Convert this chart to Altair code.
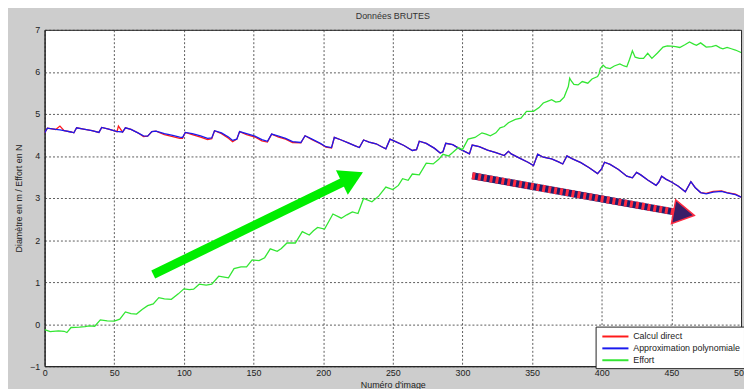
import altair as alt
import pandas as pd

# ---- data ----
blue_x = [0, 2, 8, 11, 14, 19, 21, 23, 28, 34, 39, 41, 46, 52, 53, 56, 58, 62, 67, 71, 74, 77, 80, 86, 92, 97, 99,
          101, 106, 112, 117, 120, 122, 127, 132, 135, 138, 140, 145, 151, 156, 160, 163, 168, 173, 178, 184,
          187, 192, 198, 202, 206, 208, 213, 218, 223, 226, 229, 233, 238, 242, 245, 248, 252, 258, 264, 267,
          269, 274, 280, 284, 286, 288, 293, 299, 305, 307, 312, 318, 324, 330, 333, 335, 341, 347, 351, 354,
          358, 364, 369, 372, 375, 379, 385, 391, 397, 400, 402, 406, 412, 418, 422, 425, 428, 433, 439, 441,
          443, 446, 450, 455, 460, 464, 467, 471, 475, 480, 486, 490, 496, 500]
blue_y = [4.55, 4.66, 4.63, 4.62, 4.60, 4.57, 4.55, 4.67, 4.64, 4.60, 4.56, 4.68, 4.64, 4.58, 4.58, 4.57, 4.67,
          4.63, 4.55, 4.48, 4.47, 4.58, 4.59, 4.53, 4.49, 4.45, 4.44,
          4.56, 4.53, 4.48, 4.42, 4.43, 4.60, 4.55, 4.45, 4.37, 4.40, 4.58, 4.53, 4.47, 4.39, 4.35, 4.52,
          4.47, 4.42, 4.34, 4.32, 4.48, 4.40, 4.30, 4.22, 4.20, 4.44, 4.38, 4.31, 4.24, 4.20, 4.38, 4.33,
          4.29, 4.22, 4.17, 4.40, 4.34, 4.25, 4.13, 4.15, 4.35, 4.30, 4.18, 4.07, 4.10, 4.30, 4.27, 4.15,
          4.05, 4.26, 4.22, 4.14, 4.08, 4.01, 4.11, 4.05, 3.95, 3.85, 3.77, 4.04, 3.97, 3.93, 3.86, 3.81,
          4.00, 3.93, 3.84, 3.72, 3.58, 3.70, 3.85, 3.80, 3.68, 3.52, 3.48, 3.61, 3.55, 3.43, 3.30, 3.38,
          3.52, 3.45, 3.38, 3.28, 3.15, 3.39, 3.25, 3.13, 3.10, 3.14, 3.16, 3.12, 3.08, 3.02]
# deviation of "Calcul direct" from the polynomial approximation at the same image numbers
red_delta = [0, 0, 0, 0.09, 0, 0, 0, 0, 0, 0, 0, 0, 0, 0, 0.13, 0, 0, 0, 0, -0.02, 0, 0, 0, -0.02, -0.03, -0.03, -0.02,
             0, -0.02, -0.03, -0.03, -0.02, 0, -0.02, -0.03, -0.03, 0, 0, -0.02, -0.02, -0.03, -0.02, 0,
             -0.02, -0.02, -0.02, -0.01, 0, -0.01, -0.01, -0.01, -0.01, 0, 0, 0, 0, 0, 0, 0,
             0, 0, 0, 0, 0, 0, 0, 0, 0, 0, 0, 0, 0, 0, 0, 0,
             0, 0, 0, 0, 0, 0, 0, 0, 0, 0, 0, 0, 0, 0, 0, 0,
             0, 0, 0, 0, 0, 0, 0, 0, 0, 0, 0, 0, 0, 0, 0, 0,
             0, 0, 0, 0, 0, 0, 0, 0, 0.01, 0.02, 0.01, 0.01, 0.01, 0]
red_y = [b + d for b, d in zip(blue_y, red_delta)]

green_x = [0, 4, 10, 14, 16, 19, 25, 29, 32, 36, 40, 45, 50, 54, 58, 62, 66, 70, 74, 78, 82, 86, 91, 96, 100,
           104, 107, 111, 116, 120, 125, 129, 132, 136, 141, 145, 149, 154, 158, 162, 167, 170, 174, 180,
           185, 190, 193, 196, 201, 207, 213, 217, 221, 225, 229, 235, 240, 245, 250, 254, 257, 261, 264,
           269, 274, 279, 283, 286, 290, 293, 297, 300, 304, 309, 314, 317, 320, 324, 327, 330, 333, 338,
           342, 346, 351, 355, 358, 361, 364, 367, 370, 373, 375, 376, 377, 378, 380, 383, 386, 390, 393,
           397, 398, 399, 401, 403, 406, 409, 413, 416, 418, 420, 422, 424, 427, 430, 433, 436, 440, 444,
           447, 450, 453, 456, 460, 463, 466, 468, 471, 475, 479, 482, 485, 487, 490, 493, 496, 500]
green_y = [-0.13, -0.18, -0.16, -0.17, -0.20, -0.08, -0.07, -0.06, -0.04, -0.05, 0.10, 0.08, 0.07, 0.12, 0.29,
           0.25, 0.24, 0.35, 0.44, 0.48, 0.63, 0.60, 0.59, 0.72, 0.84,
           0.82, 0.83, 0.95, 0.93, 0.95, 1.14, 1.12, 1.10, 1.32, 1.36, 1.36, 1.53, 1.51, 1.58, 1.79, 1.73,
           1.80, 1.93, 1.93, 2.20, 2.12, 2.22, 2.30, 2.26, 2.62, 2.52, 2.60, 2.67, 2.63, 2.99, 2.91, 3.05,
           3.26, 3.20, 3.30, 3.46, 3.42, 3.57, 3.55, 3.83, 3.81, 3.92, 4.04, 4.00, 4.08, 4.20, 4.15, 4.40,
           4.44, 4.55, 4.52, 4.48, 4.55, 4.67, 4.70, 4.79, 4.87, 4.90, 5.06, 5.06, 5.15, 5.26, 5.30, 5.34,
           5.28, 5.30, 5.40, 5.57, 5.65, 5.85, 5.79, 5.70, 5.69, 5.77, 5.73, 5.83, 5.89, 5.95, 6.08, 6.16,
           6.10, 6.08, 6.14, 6.19, 6.14, 6.12, 6.30, 6.50, 6.35, 6.32, 6.32, 6.44, 6.32, 6.45, 6.59, 6.62,
           6.61, 6.60, 6.58, 6.65, 6.71, 6.66, 6.63, 6.69, 6.59, 6.60, 6.63, 6.57, 6.55, 6.58, 6.55, 6.52,
           6.46]

series_names = ["Calcul direct", "Approximation polynomiale", "Effort"]
series_colors = ["#ff1a1a", "#1a1aee", "#33e633"]

# annotation arrows (tail point, head point) in data units
green_arrow_x = [78, 221]
green_arrow_y = [1.18, 3.49]
red_arrow_x = [307, 459]
red_arrow_y = [3.53, 2.63]

x_ticks = list(range(0, 501, 25))
y_ticks = list(range(-1, 8))

rows = []
for name, xs, ys in [(series_names[0], blue_x, red_y), (series_names[1], blue_x, blue_y),
                     (series_names[2], green_x, green_y)]:
    for i, (xv, yv) in enumerate(zip(xs, ys)):
        rows.append({"serie": name, "x": xv, "y": yv, "o": i})
df = pd.DataFrame(rows)

xscale = alt.Scale(domain=[0, 500], nice=False, zero=False)
yscale = alt.Scale(domain=[-1, 7], nice=False, zero=False)

xaxis = alt.Axis(values=x_ticks, title="Numéro d'image", titleFontSize=9, titleFontWeight="normal",
                 titleColor="#222", labelFontSize=9, labelColor="#222", ticks=False, labelPadding=2,
                 gridDash=[2, 2], gridColor="#333", gridWidth=0.8, domainColor="#222",
                 titleY=19, titleBaseline="middle", labelFlush=False, labelOverlap=False)
yaxis = alt.Axis(values=y_ticks, title="Diamètre en m / Effort en N", titleFontSize=9,
                 titleFontWeight="normal", titleColor="#222", labelFontSize=9, labelColor="#222",
                 ticks=False, labelPadding=5, gridDash=[2, 2], gridColor="#333", gridWidth=0.8,
                 domainColor="#222", titleX=-26, titleBaseline="middle", labelFlush=False)

lines = alt.Chart(df).mark_line(strokeWidth=1.3, clip=True).encode(
    x=alt.X("x:Q", scale=xscale, axis=xaxis),
    y=alt.Y("y:Q", scale=yscale, axis=yaxis),
    color=alt.Color("serie:N", scale=alt.Scale(domain=series_names, range=series_colors),
                    sort=series_names,
                    legend=alt.Legend(title=None, orient="none", legendX=557, legendY=300,
                                      fillColor="white", strokeColor="#222", padding=3,
                                      labelFontSize=9, labelColor="#222", symbolType="M-2.2,0H2.2",
                                      symbolStrokeWidth=2, symbolSize=144, rowPadding=0,
                                      symbolOffset=10, labelOffset=11)),
    order="o:Q",
)

ga = pd.DataFrame({"x": green_arrow_x, "y": green_arrow_y})
ra = pd.DataFrame({"x": red_arrow_x, "y": red_arrow_y})

g_shaft = alt.Chart(ga).mark_line(color="#00ee00", strokeWidth=9).encode(
    x=alt.X("x:Q", scale=xscale), y=alt.Y("y:Q", scale=yscale))
g_head = alt.Chart(ga.iloc[[1]]).mark_point(shape="triangle-right", filled=True, color="#00ee00",
                                            size=750, opacity=1, angle=334).encode(
    x=alt.X("x:Q", scale=xscale), y=alt.Y("y:Q", scale=yscale))

r_shaft = alt.Chart(ra).mark_line(color="#1e1e70", strokeWidth=7).encode(
    x=alt.X("x:Q", scale=xscale), y=alt.Y("y:Q", scale=yscale))
r_stripes = alt.Chart(ra).mark_line(color="#ff2a40", strokeWidth=7, strokeDash=[3, 3]).encode(
    x=alt.X("x:Q", scale=xscale), y=alt.Y("y:Q", scale=yscale))
r_head = alt.Chart(ra.iloc[[1]]).mark_point(shape="triangle-right", filled=True, color="#3a1e68",
                                            stroke="#ff2a40", strokeWidth=1.5, size=600, opacity=1,
                                            angle=10).encode(
    x=alt.X("x:Q", scale=xscale), y=alt.Y("y:Q", scale=yscale))

chart = alt.layer(lines, g_shaft, g_head, r_shaft, r_stripes, r_head).properties(
    width=704, height=340,
    title=alt.TitleParams("Données BRUTES", fontSize=9, fontWeight="normal", color="#333",
                          anchor="middle", offset=5, font="Liberation Sans"),
    padding={"left": 37, "top": 20, "right": 3, "bottom": 21},
    autosize="none",
).configure(
    background="#cdcdcd", font="Liberation Sans"
).configure_view(
    fill="white", stroke="#222", strokeWidth=1
)

chart.save("out.html", embed_options={"renderer": "svg", "actions": False})
